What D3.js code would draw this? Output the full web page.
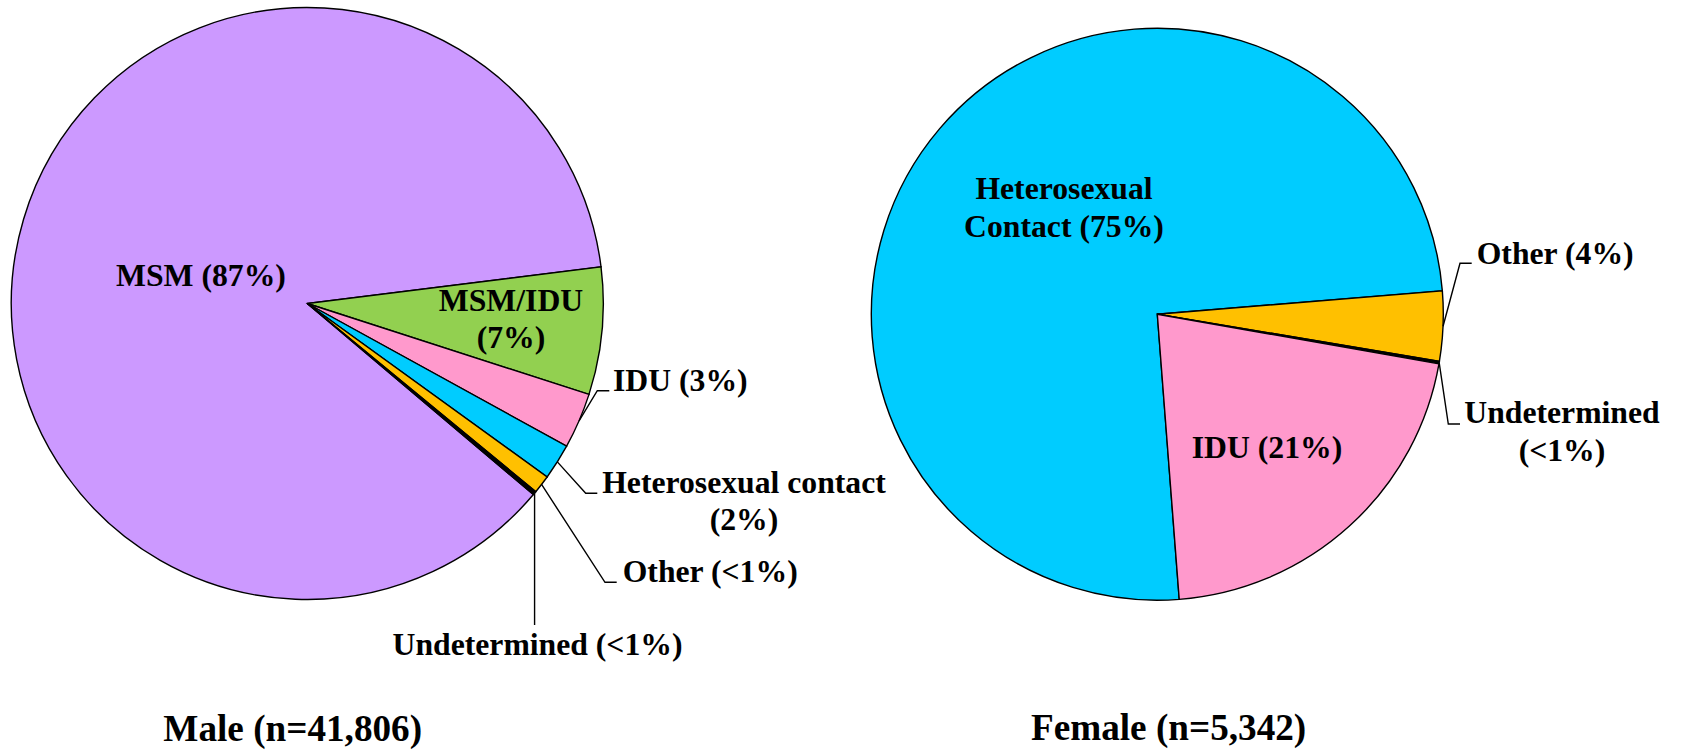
<!DOCTYPE html>
<html><head><meta charset="utf-8">
<script src="https://cdn.jsdelivr.net/npm/d3@7"></script>
<style>
html,body{margin:0;padding:0;background:#fff;}
</style>
</head><body><svg id="c" width="1681" height="750"></svg>
<script>
// ---- data ----
const maleCategories = ["MSM", "MSM/IDU", "IDU", "Heterosexual contact", "Other", "Undetermined"];
const maleValues = [86.86, 6.94, 3.04, 1.96, 1.0, 0.2];
const maleLabels = [["MSM (87%)"], ["MSM/IDU", "(7%)"], ["IDU (3%)"], ["Heterosexual contact", "(2%)"], ["Other (<1%)"], ["Undetermined (<1%)"]];
const maleTitle = "Male (n=41,806)";

const femaleCategories = ["Heterosexual Contact", "Other", "Undetermined", "IDU"];
const femaleValues = [74.92, 3.94, 0.14, 21.0];
const femaleLabels = [["Heterosexual", "Contact (75%)"], ["Other (4%)"], ["Undetermined", "(<1%)"], ["IDU (21%)"]];
const femaleTitle = "Female (n=5,342)";

// ---- styles / layout ----
const colorMap = {
  "MSM": "#CC99FF", "MSM/IDU": "#92D050", "IDU": "#FF99CC",
  "Heterosexual contact": "#00CCFF", "Heterosexual Contact": "#00CCFF",
  "Other": "#FFC000", "Undetermined": "#000000"
};
const fontFam = "'Liberation Serif', 'Times New Roman', Times, 'DejaVu Serif', serif";
const labelSize = 31.7, titleSize = 37.2, lineH = 37.4;

const charts = [
  { cats: maleCategories, vals: maleValues, labels: maleLabels, title: maleTitle,
    cx: 307.3, cy: 303.5, r: 296, startDeg: -229.8, titleX: 292.7, titleY: 741,
    layout: [
      { x: 201, y: 286, anchor: "middle" },
      { x: 511, y: 310.7, anchor: "middle" },
      { x: 613, y: 391, anchor: "start", elbow: [597.3, 390.7], end: [609.3, 390.7] },
      { x: 744, y: 493, anchor: "middle", elbow: [585.7, 493.3], end: [597.3, 493.3] },
      { x: 622.7, y: 582, anchor: "start", elbow: [605, 582.3], end: [616.7, 582.3] },
      { x: 537.5, y: 655, anchor: "middle", drop: 625 }
    ] },
  { cats: femaleCategories, vals: femaleValues, labels: femaleLabels, title: femaleTitle,
    cx: 1157.3, cy: 314.2, r: 286, startDeg: 175.6, titleX: 1168.6, titleY: 740,
    layout: [
      { x: 1064, y: 199.3, anchor: "middle" },
      { x: 1476.7, y: 264, anchor: "start", elbow: [1460, 263.3], end: [1471.7, 263.3] },
      { x: 1562, y: 423.3, anchor: "middle", elbow: [1448.3, 424], end: [1460, 424] },
      { x: 1267, y: 457.7, anchor: "middle" }
    ] }
];

const svg = d3.select("#c");
svg.append("rect").attr("width", 1681).attr("height", 750).attr("fill", "#fff");

charts.forEach(ch => {
  const data = ch.cats.map((c, i) => ({ cat: c, value: ch.vals[i], label: ch.labels[i], lay: ch.layout[i] }));
  const s = ch.startDeg * Math.PI / 180;
  const pie = d3.pie().sort(null).value(d => d.value).startAngle(s).endAngle(s + 2 * Math.PI);
  const arcs = pie(data);
  const arc = d3.arc().innerRadius(0).outerRadius(ch.r);
  const edge = d3.arc().innerRadius(ch.r).outerRadius(ch.r);
  const g = svg.append("g");
  const pg = g.append("g").attr("transform", `translate(${ch.cx},${ch.cy})`);
  pg.selectAll("path.slice").data(arcs).join("path")
    .attr("class", "slice")
    .attr("d", arc)
    .attr("fill", d => colorMap[d.data.cat])
    .attr("stroke", "#000").attr("stroke-width", 1.4).attr("stroke-linejoin", "miter");

  // leader lines
  arcs.forEach(a => {
    const L = a.data.lay;
    const c = edge.centroid(a);
    const p0 = [ch.cx + c[0], ch.cy + c[1]];
    let pts = null;
    if (L.elbow) pts = [p0, L.elbow, L.end];
    else if (L.drop) pts = [p0, [p0[0], L.drop]];
    if (pts) {
      g.append("path").attr("d", d3.line()(pts))
        .attr("fill", "none").attr("stroke", "#000").attr("stroke-width", 1.4);
    }
  });

  // labels
  arcs.forEach(a => {
    const L = a.data.lay;
    const t = g.append("text")
      .attr("font-family", fontFam).attr("font-weight", "bold").attr("fill", "#000")
      .attr("font-size", labelSize).attr("text-anchor", L.anchor);
    a.data.label.forEach((line, i) => {
      t.append("tspan").attr("x", L.x).attr("y", L.y + i * lineH).text(line);
    });
  });

  g.append("text").attr("x", ch.titleX).attr("y", ch.titleY)
    .attr("font-family", fontFam).attr("font-weight", "bold").attr("fill", "#000")
    .attr("text-anchor", "middle").attr("font-size", titleSize).text(ch.title);
});
</script>
</body></html>
